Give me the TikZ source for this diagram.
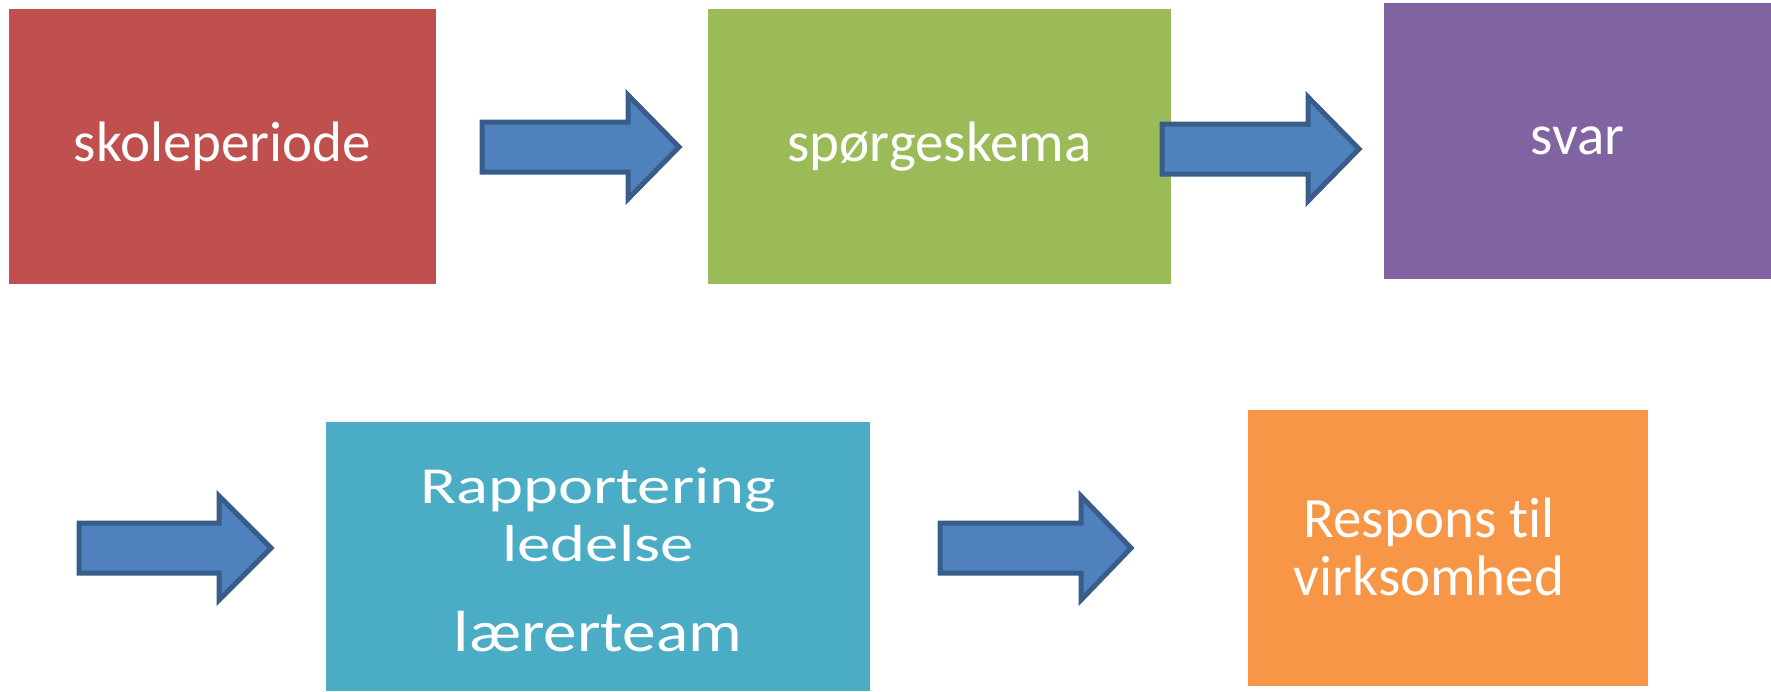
\documentclass[tikz,border=0pt]{standalone}
\usepackage{fontspec}
\setmainfont{Carlito}[Ligatures=NoCommon]
\definecolor{cred}{HTML}{C0504D}
\definecolor{cgreen}{HTML}{9BBB59}
\definecolor{cpurple}{HTML}{8064A2}
\definecolor{cteal}{HTML}{4BACC6}
\definecolor{corange}{HTML}{F79646}
\definecolor{afill}{HTML}{4F81BD}
\definecolor{aline}{HTML}{385D8A}
\begin{document}
\begin{tikzpicture}[x=1pt,y=-1pt,
  box/.style={fill=#1, draw=none, inner sep=0pt, text=white},
  txt/.style={inner sep=0pt, text=white, align=center},
  bigfont/.style={font=\fontsize{57}{58}\selectfont},
  barrow/.style={fill=afill, draw=aline, line width=5pt, line join=miter},
  pics/blockarrow/.style 2 args={code={
    \path[barrow] (0,-25) -- (#2,-25) -- (#2,-52) -- (#1,0) -- (#2,52) -- (#2,25) -- (0,25) -- cycle;
  }}]
\useasboundingbox (0,0) rectangle (1771,691);
% boxes
\node[box=cred, minimum width=427pt, minimum height=275pt, bigfont] (skole) at (222.5,146.5) {skoleperiode};
\node[box=cgreen, minimum width=463pt, minimum height=275pt, bigfont] (spoerg) at (939.5,146.5) {spørgeskema};
\node[box=cpurple, minimum width=387pt, minimum height=276pt, bigfont] (svar) at (1577.5,141) {svar};
\node[box=cteal, minimum width=544pt, minimum height=269pt] (rapbox) at (598,556.5) {};
\node[box=corange, minimum width=400pt, minimum height=276pt] (respbox) at (1448,548) {};
% texts
\node[txt, font=\fontsize{52}{58}\selectfont] (raptxt) at (598,560)
  {\scalebox{1.28}[1]{Rapportering}\\\scalebox{1.28}[1]{ledelse}\\[32pt]{\fontsize{58}{58}\selectfont\scalebox{1.16}[1]{lærerteam}}};
\node[txt, bigfont] (resptxt) at (1429,547) {Respons til\\virksomhed};
% block arrows
\pic (a1) at (482,147) {blockarrow={197}{146}};
\pic (a2) at (1162,149) {blockarrow={197}{146}};
\pic (a3) at (79,548) {blockarrow={192}{140}};
\pic (a4) at (940,548) {blockarrow={191}{141}};
\end{tikzpicture}
\end{document}
